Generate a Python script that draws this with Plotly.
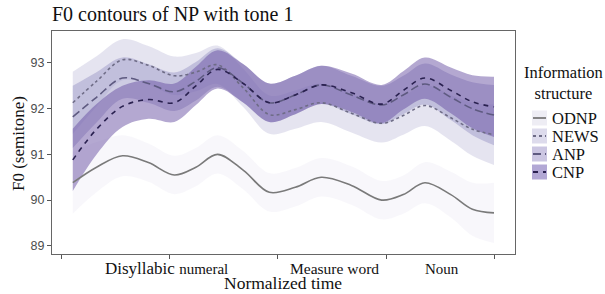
import plotly.graph_objects as go

# ---------------- data ----------------
time = [2.5, 8, 14, 20, 26, 31, 36, 42, 48, 54, 60, 67, 74, 79, 84, 90, 95, 100]

odnp = [90.38, 90.72, 90.97, 90.82, 90.55, 90.72, 91.00, 90.65, 90.17, 90.28, 90.50, 90.32, 90.00, 90.12, 90.38, 90.12, 89.80, 89.72]
odnp_hi = [91.06, 91.27, 91.42, 91.24, 90.97, 91.14, 91.42, 91.07, 90.59, 90.70, 90.92, 90.74, 90.42, 90.54, 90.83, 90.62, 90.38, 90.38]
odnp_lo = [89.70, 90.17, 90.52, 90.40, 90.13, 90.30, 90.58, 90.23, 89.75, 89.86, 90.08, 89.90, 89.58, 89.70, 89.93, 89.62, 89.22, 89.06]

news = [92.13, 92.60, 93.07, 92.95, 92.72, 92.80, 92.96, 92.45, 91.87, 91.98, 92.13, 91.90, 91.68, 91.85, 92.07, 91.80, 91.55, 91.43]
news_hi = [92.81, 93.15, 93.52, 93.37, 93.14, 93.22, 93.38, 92.87, 92.29, 92.40, 92.55, 92.32, 92.10, 92.27, 92.52, 92.30, 92.13, 92.09]
news_lo = [91.45, 92.05, 92.62, 92.53, 92.30, 92.38, 92.54, 92.03, 91.45, 91.56, 91.71, 91.48, 91.26, 91.43, 91.62, 91.30, 90.97, 90.77]

anp = [91.82, 92.25, 92.67, 92.55, 92.37, 92.60, 92.90, 92.55, 92.13, 92.30, 92.52, 92.30, 92.08, 92.30, 92.54, 92.25, 92.00, 91.86]
anp_hi = [92.50, 92.80, 93.12, 92.97, 92.79, 93.02, 93.32, 92.97, 92.55, 92.72, 92.94, 92.72, 92.50, 92.72, 92.99, 92.75, 92.58, 92.52]
anp_lo = [91.14, 91.70, 92.22, 92.13, 91.95, 92.18, 92.48, 92.13, 91.71, 91.88, 92.10, 91.88, 91.66, 91.88, 92.09, 91.75, 91.42, 91.20]

cnp = [90.88, 91.55, 92.05, 92.20, 92.13, 92.50, 92.86, 92.55, 92.13, 92.30, 92.52, 92.35, 92.10, 92.40, 92.67, 92.40, 92.15, 92.04]
cnp_hi = [91.56, 92.10, 92.50, 92.62, 92.55, 92.92, 93.28, 92.97, 92.55, 92.72, 92.94, 92.77, 92.52, 92.82, 93.12, 92.90, 92.73, 92.70]
cnp_lo = [90.20, 91.00, 91.60, 91.78, 91.71, 92.08, 92.44, 92.13, 91.71, 91.88, 92.10, 91.93, 91.68, 91.98, 92.22, 91.90, 91.57, 91.38]

groups = ["ODNP", "NEWS", "ANP", "CNP"]
y_ticks = [89, 90, 91, 92, 93]
x_ticks = [0, 25, 50, 75, 100]
segments = ["Disyllabic <span style='font-size:15px'>numeral</span>", "Measure word", "Noun"]
segment_pos = [24.1, 63.0, 88.0]
segment_sizes = [17, 15.5, 15]

# ---------------- styles ----------------
SERIF = "Liberation Serif, Times New Roman, serif"
SANS = "Liberation Sans, Arial, sans-serif"
fills = ["rgba(242,240,247,0.55)", "rgba(203,201,226,0.5)", "rgba(158,154,200,0.5)", "rgba(106,81,163,0.5)"]
key_fills = ["#eeedf4", "#dddbec", "#cbc6e2", "#b2a8d5"]
line_colors = ["#7a7a7a", "#6e6c86", "#5e5a80", "#2a2150"]
dashes = ["solid", "3px,3px", "8px,4px", "5px,5px"]

series = [(odnp, odnp_hi, odnp_lo), (news, news_hi, news_lo), (anp, anp_hi, anp_lo), (cnp, cnp_hi, cnp_lo)]

fig = go.Figure()
for i, (mid, hi, lo) in enumerate(series):
    fig.add_trace(go.Scatter(x=time, y=lo, mode="lines", line=dict(width=0, shape="spline"),
                             showlegend=False, hoverinfo="skip"))
    fig.add_trace(go.Scatter(x=time, y=hi, mode="lines", line=dict(width=0, shape="spline"),
                             fill="tonexty", fillcolor=fills[i], showlegend=False, hoverinfo="skip"))
for i, (mid, hi, lo) in enumerate(series):
    fig.add_trace(go.Scatter(x=time, y=mid, mode="lines", name=groups[i],
                             line=dict(color=line_colors[i], width=1.6, dash=dashes[i], shape="spline"),
                             showlegend=False))

# plot area in pixels
L, R, T, B = 52, 515, 31, 254
W, H = R - L, B - T

def px(xp):
    return (xp - L) / W

def py(yp):
    return (B - yp) / H

shapes = []
annotations = []
# legend
annotations.append(dict(text="Information<br>structure", x=px(563), y=py(83), xref="paper", yref="paper",
                        showarrow=False, xanchor="center", yanchor="middle",
                        font=dict(family=SERIF, size=16.5, color="#111"), align="center"))
rows = [118, 136, 154, 172]
for i, g in enumerate(groups):
    yc = rows[i]
    shapes.append(dict(type="rect", xref="paper", yref="paper", x0=px(532), x1=px(547),
                       y0=py(yc + 7.5), y1=py(yc - 7.5), fillcolor=key_fills[i], line=dict(width=0)))
    shapes.append(dict(type="line", xref="paper", yref="paper", x0=px(533), x1=px(546),
                       y0=py(yc), y1=py(yc), line=dict(color=line_colors[i], width=1.8, dash=dashes[i])))
    annotations.append(dict(text=g, x=px(550), y=py(yc), xref="paper", yref="paper", showarrow=False,
                            xanchor="left", yanchor="middle", font=dict(family=SERIF, size=16.5, color="#111")))
# segment labels on the time axis
for lab, pos, sz in zip(segments, segment_pos, segment_sizes):
    annotations.append(dict(text=lab, x=pos, y=py(268.5), xref="x", yref="paper", showarrow=False,
                            xanchor="center", yanchor="middle", borderpad=0,
                            font=dict(family=SERIF, size=sz, color="#111")))
annotations.append(dict(text="Normalized time", x=px(283), y=py(294), xref="paper", yref="paper",
                        showarrow=False, xanchor="center", yanchor="bottom", borderpad=0,
                        font=dict(family=SERIF, size=17.5, color="#111")))
annotations.append(dict(text="F0 (semitone)", x=px(18), y=py(144), xref="paper", yref="paper",
                        showarrow=False, xanchor="center", yanchor="middle", textangle=-90,
                        font=dict(family=SERIF, size=17, color="#111")))

fig.update_layout(
    width=605, height=294,
    margin=dict(l=L, r=605 - R, t=T, b=294 - B),
    paper_bgcolor="white", plot_bgcolor="white",
    title=dict(text="F0 contours of NP with tone 1", x=L / 605, xref="container",
               xanchor="left", y=1 - 14 / 294, yanchor="middle",
               font=dict(family=SERIF, size=20, color="#111")),
    xaxis=dict(range=[-2.31, 104.86], tickvals=x_ticks, showticklabels=False, ticks="outside",
               ticklen=4, tickcolor="#555", showline=True, linecolor="#666", linewidth=1, mirror=True,
               showgrid=False, zeroline=False),
    yaxis=dict(range=[88.82, 93.70], tickvals=y_ticks, ticks="outside", ticklen=4, tickcolor="#555",
               showline=True, linecolor="#666", linewidth=1, mirror=True, showgrid=False, zeroline=False,
               tickfont=dict(family=SANS, size=12.5, color="#4d4d4d")),
    shapes=shapes, annotations=annotations, showlegend=False,
)

fig.write_html("out.html", config={"displayModeBar": False},
               post_script="document.body.style.margin='0px';document.body.style.overflow='hidden';")
